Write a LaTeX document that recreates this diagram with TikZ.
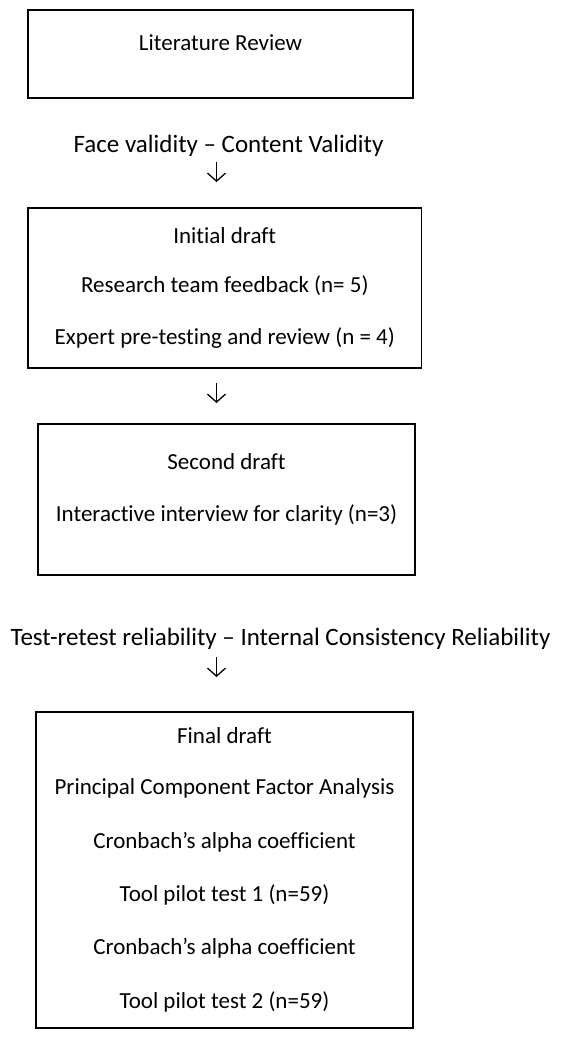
\documentclass[tikz,border=0pt]{standalone}
\usepackage{fontspec}
\setmainfont{Carlito}[Ligatures=NoCommon]
\usetikzlibrary{arrows.meta}
\begin{document}
\begin{tikzpicture}[x=1pt,y=-1pt,
  box/.style={draw,line width=1.6pt,rectangle,inner sep=0pt},
  boxtxt/.style={inner sep=0pt,font=\fontsize{23}{27}\selectfont},
  lbl/.style={inner sep=0pt,font=\fontsize{25}{29}\selectfont},
  arr/.style={line width=1.3pt,-{Straight Barb[length=8pt,width=18pt,line width=1.3pt]}}]
\useasboundingbox (0,0) rectangle (563,1039);
% boxes
\node[box,minimum width=385pt,minimum height=88pt] (b1) at (220.5,54) {};
\node[box,minimum width=393.5pt,minimum height=160pt] (b2) at (224.75,288) {};
\node[box,minimum width=377pt,minimum height=151pt] (b3) at (226.5,499.5) {};
\node[box,minimum width=377pt,minimum height=316pt] (b4) at (224.5,870) {};
% box texts
\node[boxtxt] (t1) at (220.5,43) {Literature Review};
\node[boxtxt] (t2a) at (224.75,236) {Initial draft};
\node[boxtxt] (t2b) at (224.75,286) {Research team feedback (n= 5)};
\node[boxtxt] (t2c) at (224.75,338) {Expert pre-testing and review (n = 4)};
\node[boxtxt] (t3a) at (226.5,462) {Second draft};
\node[boxtxt] (t3b) at (226.5,515) {Interactive interview for clarity (n=3)};
\node[boxtxt] (t4a) at (224.5,736) {Final draft};
\node[boxtxt] (t4b) at (224.5,788) {Principal Component Factor Analysis};
\node[boxtxt] (t4c) at (224.5,842) {Cronbach’s alpha coefficient};
\node[boxtxt] (t4d) at (224.5,895) {Tool pilot test 1 (n=59)};
\node[boxtxt] (t4e) at (224.5,948) {Cronbach’s alpha coefficient};
\node[boxtxt] (t4f) at (224.5,1002) {Tool pilot test 2 (n=59)};
% labels
\node[lbl] (l1) at (228.5,146) {Face validity – Content Validity};
\node[lbl] (l2) at (280.5,639) {Test-retest reliability – Internal Consistency Reliability};
% arrows
\coordinate (a1s) at (216.5,162); \coordinate (a1e) at (216.5,182);
\coordinate (a2s) at (216.5,383); \coordinate (a2e) at (216.5,403);
\coordinate (a3s) at (216.5,657); \coordinate (a3e) at (216.5,677);
\draw[arr] (a1s) -- (a1e);
\draw[arr] (a2s) -- (a2e);
\draw[arr] (a3s) -- (a3e);
\end{tikzpicture}
\end{document}
